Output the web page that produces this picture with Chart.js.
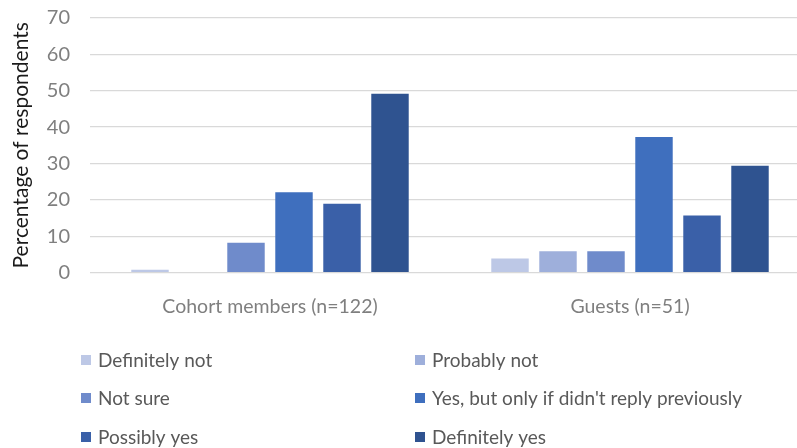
<!DOCTYPE html>
<html>
<head>
<meta charset="utf-8">
<script src="https://cdn.jsdelivr.net/npm/chart.js@4.4.1/dist/chart.umd.min.js"></script>
<style>
  html, body { margin: 0; padding: 0; background: #fff; overflow: hidden; }
  #wrap { width: 812px; height: 448px; }
</style>
</head>
<body>
<div id="wrap"><canvas id="grafico" width="812" height="448"></canvas></div>
<script>
// === DATA ==================================================================
const categories = ['Cohort members (n=122)', 'Guests (n=51)'];
const answers    = ['Definitely not', 'Probably not', 'Not sure',
                    "Yes, but only if didn't reply previously", 'Possibly yes', 'Definitely yes'];

const definitelyNot = [0.8, 3.9];
const probablyNot   = [0,   5.9];
const notSure       = [8.2, 5.9];
const yesIfNoReply  = [22.1, 37.3];
const possiblyYes   = [18.9, 15.7];
const definitelyYes = [49.2, 29.4];

const yTicks = [0, 10, 20, 30, 40, 50, 60, 70];

// === STYLE =================================================================
const colors = ['#bdc8e6', '#9eafdb', '#6f8bcb', '#3f6fbe', '#3a60a8', '#2f5390'];
const FONT = 'Lato, "Open Sans", sans-serif';

// legenda em grade 2x3 (posições de layout, não de dados)
const legendCols = [81, 415];
const legendRows = [360, 398, 437];

// === HELPERS ===============================================================
const series = [definitelyNot, probablyNot, notSure, yesIfNoReply, possiblyYes, definitelyYes];

function montaDatasets() {
  return answers.map((label, i) => ({
    label,
    data: series[i],
    backgroundColor: colors[i],
    borderWidth: 0,
    categoryPercentage: 0.8,
    barPercentage: 0.78
  }));
}

const gridLegend = {
  id: 'gridLegend',
  afterDraw(chart) {
    const ctx = chart.ctx;
    ctx.save();
    ctx.font = `19px ${FONT}`;
    ctx.textBaseline = 'middle';
    ctx.textAlign = 'left';
    chart.data.datasets.forEach((ds, i) => {
      const x = legendCols[i % 2];
      const y = legendRows[Math.floor(i / 2)];
      ctx.fillStyle = ds.backgroundColor;
      ctx.fillRect(x, y - 5, 10, 10);
      ctx.fillStyle = '#595959';
      ctx.fillText(ds.label, x + 17, y + 1);
    });
    ctx.restore();
  }
};

// === CHART =================================================================
const el = document.getElementById('grafico');

new Chart(el, {
  type: 'bar',
  data: { labels: categories, datasets: montaDatasets() },
  options: {
    responsive: false,
    animation: false,
    layout: { padding: { top: 18, right: 2, bottom: 108, left: 0 } },  // ajustado no olho
    plugins: {
      legend: { display: false },
      tooltip: { enabled: false }
    },
    scales: {
      x: {
        grid: { display: false, drawTicks: false },
        border: { display: false },
        ticks: { color: '#7f7f7f', font: { family: FONT, size: 19.5 }, padding: 22 }
      },
      y: {
        min: 0,
        max: 70,
        afterFit: s => {
          s.width = 90;
          s.paddingTop = 0;      // o "70" pode encostar no topo
          s.paddingBottom = 0;
        },
        afterBuildTicks: s => { s.ticks = yTicks.map(v => ({ value: v })); },
        grid: { color: '#d9d9d9', lineWidth: 1.3, drawTicks: false },
        border: { display: false },
        ticks: { color: '#7f7f7f', font: { family: FONT, size: 20 }, padding: 20 },
        title: {
          display: true,
          text: 'Percentage of respondents',
          color: '#1a1a1a',
          font: { family: FONT, size: 21 },
          padding: { top: 9, bottom: 4 }
        }
      }
    }
  },
  plugins: [gridLegend]
});
</script>
</body>
</html>
